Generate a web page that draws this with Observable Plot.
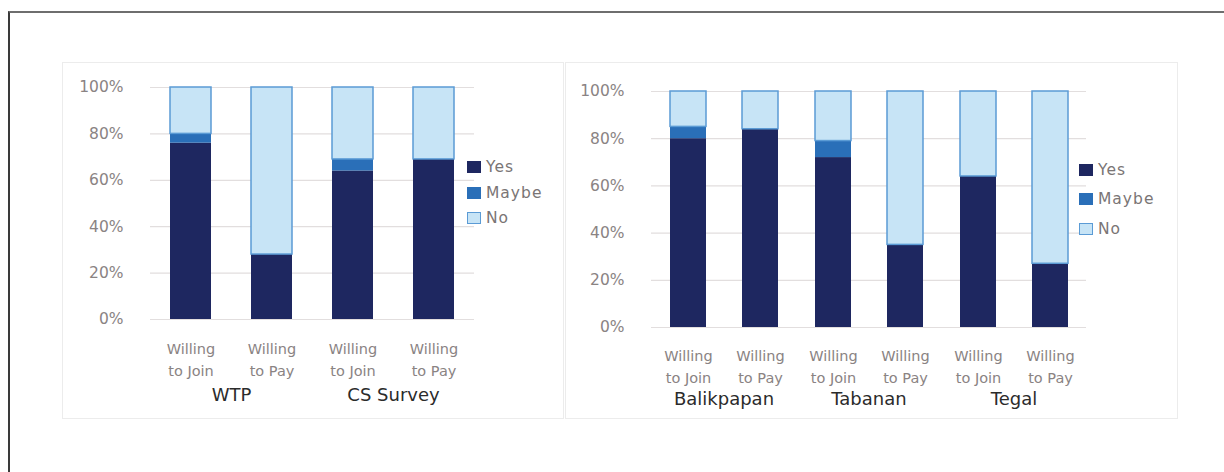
<!DOCTYPE html>
<html>
<head>
<meta charset="utf-8">
<script src="https://cdn.jsdelivr.net/npm/d3@7"></script>
<script src="https://cdn.jsdelivr.net/npm/@observablehq/plot@0.6"></script>
<style>
  html, body { margin: 0; padding: 0; background: #fff; }
  body { width: 1224px; height: 472px; position: relative; overflow: hidden; font-family: "DejaVu Sans", sans-serif; }
  #frame { position: absolute; left: 8px; top: 11px; width: 1240px; height: 480px; border-top: 2px solid #6e6e6e; border-left: 2px solid #3a3a3a; }
  .panel { position: absolute; top: 62px; border: 1px solid #ececec; box-sizing: border-box; }
  .panel svg { display: block; }
  .legend { position: absolute; font-size: 15.5px; color: #7a7575; letter-spacing: 1px; }
  .legend .row { position: absolute; left: 0; height: 18px; line-height: 18px; white-space: nowrap; }
  .legend .sw { display: inline-block; width: 14px; height: 12px; box-sizing: border-box; vertical-align: -1px; margin-right: 5px; }
</style>
</head>
<body>
<div id="frame"></div>
<div id="left" class="panel" style="left:62px;width:502px;height:357px;"></div>
<div id="right" class="panel" style="left:565px;width:613px;height:357px;"></div>
<div id="legendLeft" class="legend" style="left:467px;top:0px;"></div>
<div id="legendRight" class="legend" style="left:1079px;top:0px;"></div>
<script>
// ---- data ----
const responses = ["Yes", "Maybe", "No"];
const items = ["Willing\nto Join", "Willing\nto Pay"];
const yTicks = [0, 20, 40, 60, 80, 100];

const leftGroups = ["WTP", "CS Survey"];
const leftYes   = [76, 28, 64, 69];
const leftMaybe = [4, 0, 5, 0];
const leftNo    = [20, 72, 31, 31];

const rightGroups = ["Balikpapan", "Tabanan", "Tegal"];
const rightYes   = [80, 84, 72, 35, 64, 27];
const rightMaybe = [5, 0, 7, 0, 0, 0];
const rightNo    = [15, 16, 21, 65, 36, 73];

// ---- styles ----
const fillColors = ["#1e2760", "#2a6fb8", "#c7e4f6"];
const noStroke = "#5b9bd5";

function rows(groups, yes, maybe, no) {
  const out = [];
  groups.forEach((g, gi) => items.forEach((it, ii) => {
    const k = gi * items.length + ii;
    [yes[k], maybe[k], no[k]].forEach((v, ri) =>
      out.push({group: g, item: it, response: responses[ri], value: v}));
  }));
  return out;
}

function panel(data, groups, o) {
  return Plot.plot({
    width: o.width, height: 355,
    marginLeft: o.ml, marginRight: o.mr, marginTop: o.mt, marginBottom: o.mb,
    style: {fontFamily: "'DejaVu Sans', sans-serif", fontSize: "14px", background: "transparent", overflow: "visible"},
    fx: {domain: groups, padding: 0, label: null},
    x: {domain: items, paddingInner: 0.5, paddingOuter: 0.25, label: null},
    y: {domain: [0, 100], label: null},
    color: {domain: responses, range: fillColors},
    opacity: {domain: [0, 1], range: [0, 1]},
    marks: [
      Plot.gridY(yTicks, {stroke: "#e2dede", strokeOpacity: 1, strokeWidth: 1.2}),
      Plot.barY(data, {
        fx: "group", x: "item", y: "value", fill: "response",
        stroke: noStroke, strokeWidth: 1.5,
        strokeOpacity: d => d.response === "No" ? 1 : 0
      }),
      Plot.axisY(yTicks, {tickSize: 0, tickPadding: 27, tickFormat: d => d + "%", fontSize: 15.5, fill: "#8a8383", label: null, style: {letterSpacing: "1px"}}),
      Plot.axisX({anchor: "bottom", tickSize: 0, tickPadding: o.xpad, lineHeight: 1.5, fontSize: 14.5, fill: "#8a8383", label: null, style: {letterSpacing: "1.1px"}}),
      Plot.axisFx({anchor: "bottom", tickSize: 0, tickPadding: o.fxpad, fontSize: 18, fill: "#2b2b2b", stroke: "#2b2b2b", strokeWidth: 0.5, label: null, style: {letterSpacing: "0.9px"}})
    ]
  });
}

document.getElementById("left").appendChild(
  panel(rows(leftGroups, leftYes, leftMaybe, leftNo), leftGroups,
        {width: 500, ml: 86, mr: 89, mt: 24, mb: 99, xpad: 19, fxpad: 69}));
document.getElementById("right").appendChild(
  panel(rows(rightGroups, rightYes, rightMaybe, rightNo), rightGroups,
        {width: 611, ml: 84, mr: 91, mt: 28, mb: 91, xpad: 18, fxpad: 65}));

function legend(id, centers) {
  const el = document.getElementById(id);
  responses.forEach((r, i) => {
    const row = document.createElement("div");
    row.className = "row";
    row.style.top = (centers[i] - 9) + "px";
    const sw = document.createElement("span");
    sw.className = "sw";
    sw.style.background = fillColors[i];
    if (r === "No") sw.style.border = "1.5px solid " + noStroke;
    row.appendChild(sw);
    row.appendChild(document.createTextNode(r));
    el.appendChild(row);
  });
}
legend("legendLeft", [167, 193, 218]);
legend("legendRight", [170, 199, 229]);
</script>
</body>
</html>
